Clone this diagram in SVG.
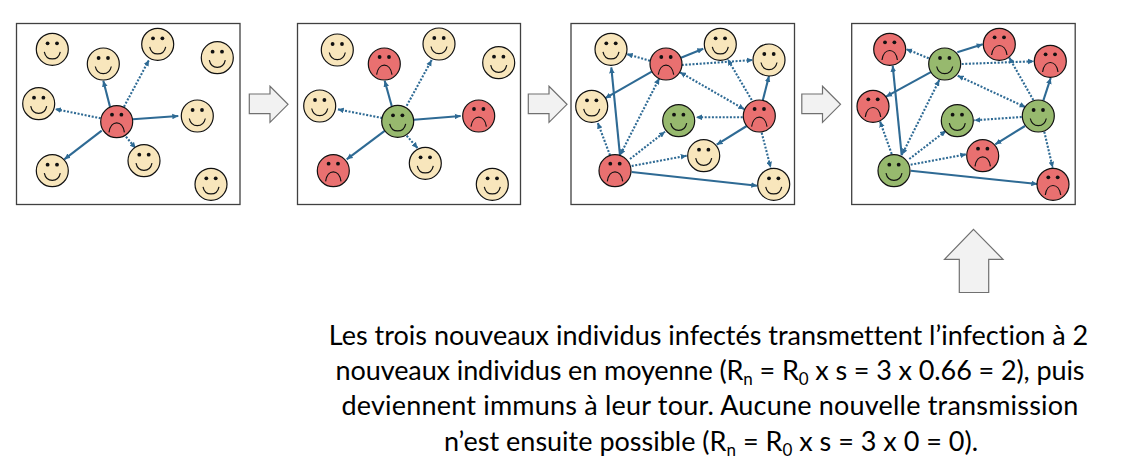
<svg xmlns="http://www.w3.org/2000/svg" width="1126" height="474" viewBox="0 0 1126 474">
<style>
.panel{fill:#fff;stroke:#404040;stroke-width:1.3}
.blk{fill:#f2f2f2;stroke:#707070;stroke-width:1.2}
.f{stroke:#111;stroke-width:1.2}
.h{fill:#f8e6bc}.r{fill:#e97070}.g{fill:#97b96e}
.m{fill:none;stroke:#111;stroke-width:1.2}
.e{fill:#111}
.s,.d{stroke:#2e6a94;stroke-width:2.1;fill:none;marker-end:url(#ah)}
.d{stroke-dasharray:2 1.6}
.b{marker-start:url(#ah)}
text{font-family:Lato,"Liberation Sans",sans-serif;font-size:27px;fill:#000;text-anchor:middle;font-variant-ligatures:none}
.sub{font-size:17px}
</style>
<defs>
<marker id="ah" viewBox="0 0 6 6" refX="6" refY="3" markerWidth="6" markerHeight="6" markerUnits="userSpaceOnUse" orient="auto-start-reverse"><path d="M0,0.2L6,3L0,5.8z" fill="#2e6a94"/></marker>
<g id="hp"><circle class="f h" r="16"/><circle class="e" cx="-4.7" cy="-6" r="1.9"/><circle class="e" cx="4.7" cy="-6" r="1.9"/><path class="m" d="M-8,2.5C-6,12 6,12 8,2.5"/></g>
<g id="rd"><circle class="f r" r="16"/><circle class="e" cx="-4.7" cy="-7" r="1.9"/><circle class="e" cx="4.7" cy="-7" r="1.9"/><path class="m" d="M-7.7,10.7C-6,-2 6,-2 7.7,10.7"/></g>
<g id="gn"><circle class="f g" r="16"/><circle class="e" cx="-4.7" cy="-6" r="1.9"/><circle class="e" cx="4.7" cy="-6" r="1.9"/><path class="m" d="M-8,2.5C-6,12 6,12 8,2.5"/></g>
</defs>
<rect width="1126" height="474" fill="#fff"/>
<g id="panels">
<rect class="panel" x="16.5" y="23.5" width="223.5" height="181"/>
<rect class="panel" x="297.5" y="23.5" width="223" height="181"/>
<rect class="panel" x="571" y="23.5" width="223.5" height="181"/>
<rect class="panel" x="851.7" y="23.5" width="223.5" height="181"/>
</g>
<g id="block-arrows">
<path class="blk" d="M249.3,94H270V86.3L288,104.3L270,122.3V113.7H249.3z"/>
<path class="blk" d="M528.3,94H549V86.3L567,104.3L549,122.3V113.7H528.3z"/>
<path class="blk" d="M801.8,94H822.5V86.3L840.5,104.3L822.5,122.3V113.7H801.8z"/>
<path class="blk" d="M973.5,229.3L1003,259.3H988.7V292.5H959.3V259.3H944.5z"/>
</g>
<g id="connectors">
<path class="s" d="M110,106.7L103.3,80.7"/><path class="s" d="M132.7,119.3L178.3,116"/><path class="s" d="M101.7,130.7L64.3,159.3"/>
<path class="d" d="M124,106.7L149,60"/><path class="d" d="M100.7,118.3L55,109"/><path class="d" d="M126,136.7L135.7,148.3"/>
<path class="s" d="M391.7,106L384.7,80.7"/><path class="s" d="M414,119.7L460.7,116"/><path class="s" d="M385,130.7L346.7,159.3"/>
<path class="d" d="M406.7,105.7L431.7,60"/><path class="d" d="M382.3,118L337.7,109.3"/><path class="d" d="M406.7,135.7L417.7,148.3"/>
<path class="s" d="M620,155.3L611.3,67.3"/><path class="s" d="M651.7,71.7L605,98.3"/><path class="s" d="M681,57.7L703.3,48.7"/><path class="s" d="M762.7,100.7L769,76"/><path class="s" d="M746.7,126L716.7,144.7"/><path class="s" d="M631.7,172L757.3,185.7"/>
<path class="d" d="M650,60.7L626.7,54"/><path class="d" d="M681.7,65L752.7,60"/><path class="d b" d="M659.3,78.3L620,155.3"/><path class="d b" d="M680,72.3L744.3,109.3"/><path class="d" d="M751.7,100L727.7,59.3"/><path class="d" d="M742.7,117.3L696,117.3"/><path class="d" d="M761.7,132.7L770.7,167.7"/><path class="d" d="M610,155.3L597.7,122.7"/><path class="d" d="M630,159L665,131.7"/><path class="d" d="M631.7,166L686.7,155.7"/>
<path class="s" d="M901.7,155.3L892.7,65.7"/><path class="s" d="M931.7,71.7L886,96.7"/><path class="s" d="M957.3,52.3L982.7,44.3"/><path class="s" d="M1043.3,100.7L1050.7,78"/><path class="s" d="M1025,126L995.3,144.3"/><path class="s" d="M910.7,170.7L1037.3,184"/>
<path class="d" d="M928.7,58.3L906,49"/><path class="d" d="M961.7,64L1034,61.3"/><path class="d b" d="M939.3,80L902,154.7"/><path class="d b" d="M957.7,75.7L1025.7,107.3"/><path class="d" d="M1033.3,100L1009,57.3"/><path class="d" d="M1021.7,117L974.3,120.3"/><path class="d" d="M1044.3,131.7L1052.7,167.7"/><path class="d" d="M891.7,154L880,121.3"/><path class="d" d="M909.3,159L946,130.7"/><path class="d" d="M910.7,164.7L966.3,154.3"/>
</g>
<g id="p1-nodes">
<g id="p1n1" transform="translate(52.3,49.3)"><use href="#hp"/></g>
<g id="p1n2" transform="translate(103.3,64)"><use href="#hp"/></g>
<g id="p1n3" transform="translate(157.7,44.3)"><use href="#hp"/></g>
<g id="p1n4" transform="translate(217.3,57.7)"><use href="#hp"/></g>
<g id="p1n5" transform="translate(38.7,103.7)"><use href="#hp"/></g>
<g id="p1n6" transform="translate(197.3,116)"><use href="#hp"/></g>
<g id="p1n7" transform="translate(116.7,121.7)"><use href="#rd"/></g>
<g id="p1n8" transform="translate(52.3,170.7)"><use href="#hp"/></g>
<g id="p1n9" transform="translate(144,160.7)"><use href="#hp"/></g>
<g id="p1n10" transform="translate(211,184.3)"><use href="#hp"/></g>
</g>
<g id="p2-nodes">
<g id="p2n1" transform="translate(337.3,50)"><use href="#hp"/></g>
<g id="p2n2" transform="translate(384.3,64)"><use href="#rd"/></g>
<g id="p2n3" transform="translate(439,44)"><use href="#hp"/></g>
<g id="p2n4" transform="translate(498.7,62.7)"><use href="#hp"/></g>
<g id="p2n5" transform="translate(319.7,106)"><use href="#hp"/></g>
<g id="p2n6" transform="translate(478.7,116)"><use href="#rd"/></g>
<g id="p2n7" transform="translate(397.7,121.3)"><use href="#gn"/></g>
<g id="p2n8" transform="translate(333.3,170.7)"><use href="#rd"/></g>
<g id="p2n9" transform="translate(425.3,163.3)"><use href="#hp"/></g>
<g id="p2n10" transform="translate(492.3,184.3)"><use href="#hp"/></g>
</g>
<g id="p3-nodes">
<g id="p3n1" transform="translate(611,49.3)"><use href="#hp"/></g>
<g id="p3n2" transform="translate(666,64)"><use href="#rd"/></g>
<g id="p3n3" transform="translate(720.3,44.3)"><use href="#hp"/></g>
<g id="p3n4" transform="translate(769,60)"><use href="#hp"/></g>
<g id="p3n5" transform="translate(591.7,106.3)"><use href="#hp"/></g>
<g id="p3n6" transform="translate(759.3,116)"><use href="#rd"/></g>
<g id="p3n7" transform="translate(678.7,120.7)"><use href="#gn"/></g>
<g id="p3n8" transform="translate(703.7,155.7)"><use href="#hp"/></g>
<g id="p3n9" transform="translate(615,170.7)"><use href="#rd"/></g>
<g id="p3n10" transform="translate(773.7,184.3)"><use href="#hp"/></g>
</g>
<g id="p4-nodes">
<g id="p4n1" transform="translate(889.7,49.3)"><use href="#rd"/></g>
<g id="p4n2" transform="translate(944.7,64)"><use href="#gn"/></g>
<g id="p4n3" transform="translate(999.3,44.3)"><use href="#rd"/></g>
<g id="p4n4" transform="translate(1050.3,61.3)"><use href="#rd"/></g>
<g id="p4n5" transform="translate(873,106.3)"><use href="#rd"/></g>
<g id="p4n6" transform="translate(1038.3,116)"><use href="#gn"/></g>
<g id="p4n7" transform="translate(957.3,120.7)"><use href="#gn"/></g>
<g id="p4n8" transform="translate(982.7,155.7)"><use href="#rd"/></g>
<g id="p4n9" transform="translate(894,170.7)"><use href="#gn"/></g>
<g id="p4n10" transform="translate(1053,184.3)"><use href="#rd"/></g>
</g>
<g id="caption">
<text x="708.5" y="345">Les trois nouveaux individus infectés transmettent l’infection à 2</text>
<text x="710" y="380" letter-spacing="-0.1">nouveaux individus en moyenne (R<tspan class="sub" dy="5">n</tspan><tspan dy="-5"> = R</tspan><tspan class="sub" dy="5">0</tspan><tspan dy="-5"> x s = 3 x 0.66 = 2), puis</tspan></text>
<text x="710" y="415" letter-spacing="0.2">deviennent immuns à leur tour. Aucune nouvelle transmission</text>
<text x="711" y="450.5">n’est ensuite possible (R<tspan class="sub" dy="5">n</tspan><tspan dy="-5"> = R</tspan><tspan class="sub" dy="5">0</tspan><tspan dy="-5"> x s = 3 x 0 = 0).</tspan></text>
</g>
</svg>
